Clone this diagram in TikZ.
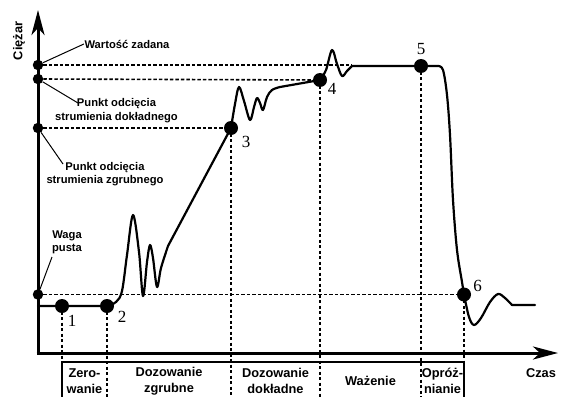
\documentclass[tikz,border=0pt]{standalone}
\usepackage{fontspec}
\setmainfont{Liberation Serif}
\setsansfont{Liberation Sans}
\usetikzlibrary{arrows.meta,calc}

\begin{document}
\begin{tikzpicture}[x=1pt, y=-1pt,
    axis/.style={line width=3pt, -{Stealth[length=25pt,width=13pt,inset=7pt]}},
    curve/.style={line width=2.2pt, line join=round, line cap=round},
    guide/.style={line width=1.6pt, dash pattern=on 3.3pt off 2.2pt},
    leader/.style={line width=1pt},
    boxline/.style={line width=1.1pt},
    adot/.style={circle, fill=black, inner sep=0pt, minimum size=10.5pt},
    pdot/.style={circle, fill=black, inner sep=0pt, minimum size=14pt},
    num/.style={font=\fontsize{17}{17}\selectfont, inner sep=0pt},
    lbl/.style={font=\sffamily\bfseries\fontsize{11.2}{13.5}\selectfont, align=center, inner sep=0.5pt},
    phase/.style={font=\sffamily\bfseries\fontsize{12.8}{16}\selectfont, align=center, inner sep=0pt}]
                \useasboundingbox (0,0) rectangle (561,396);

                % points on the curve
                \coordinate (O) at (38,353);
                \coordinate (bot) at (0,400);
                \coordinate (p1) at (62,306);
                \coordinate (p2) at (107,306);
                \coordinate (p3) at (231,128);
                \coordinate (p4) at (320,80);
                \coordinate (p5) at (421,66);
                \coordinate (p6) at (464,294.5);
                \coordinate (f) at (352,66);

                % points on the weight axis
                \node[adot] (a1) at (38,65) {};
                \node[adot] (a2) at (38,79) {};
                \node[adot] (a3) at (38,128) {};
                \node[adot] (a4) at (38,294.5) {};

                % guides
                \draw[guide] (a1) -- (a1 -| f);
                \draw[guide] (a2) -- (p4);
                \draw[guide] (a3) -- (p3);
                \draw[guide] (a4) -- (p6);
                \foreach \p in {p1,p2,p3,p4,p5,p6} {
                    \draw[guide] (\p) -- (\p |- bot);
                }

                % axes
                \draw[axis] (O) -- (38,10);
                \draw[axis] (36.5,353) -- (558,353);
                \node[phase, rotate=90] (ylab) at (19,41) {Ciężar};
                \node[phase] (xlab) at (541,373) {Czas};

                % weight curve
                \draw[curve] (38,306) -- (p1) -- (p2)
                    plot[smooth, tension=0.55] coordinates {(p2) (116,302) (122,291) (127,255) (133,215) (139,252) (143,296) (147,262) (150,245) (153,258) (157,287) (161,268) (168,246)}
                    -- (p3)
                    plot[smooth, tension=0.55] coordinates {(p3) (235,104) (239,87) (244,101) (250,120) (254,107) (257,98) (260,103) (263,110) (267,97) (272,90) (280,87)}
                    -- (p4)
                    plot[smooth, tension=0.55] coordinates {(p4) (326,70) (332,50) (337,64) (342,76) (347,71) (f)}
                    -- (p5) -- (438,66)
                    plot[smooth, tension=0.55] coordinates {(438,66) (443,70) (447,95) (450,135) (453,200) (457,250) (462,282) (p6) (469,317) (474,325) (481,318) (490,302) (498,294) (505,298) (512,305)}
                    -- (535,305);

                % numbered points
                \foreach \p in {p1,p2,p3,p4,p5,p6} {
                    \node[pdot] (d\p) at (\p) {};
                }
                \node[num] (n1) at (72,321) {1};
                \node[num] (n2) at (122,317) {2};
                \node[num] (n3) at (246,142) {3};
                \node[num] (n4) at (332,89) {4};
                \node[num] (n5) at (421,49) {5};
                \node[num] (n6) at (477.5,286) {6};

                % labels of the weight axis
                \node[lbl] (lws) at (127,44) {Wartość zadana};
                \draw[leader] (a1) -- (lws.west);
                \node[lbl] (ldok) at (116.5,110.5) {Punkt odcięcia\\strumienia dokładnego};
                \coordinate (edok) at (78,103);
                \draw[leader] (a2) -- (edok);
                \node[lbl] (lzgr) at (105,174) {Punkt odcięcia\\strumienia zgrubnego};
                \coordinate (ezgr) at (63,164);
                \draw[leader] (a3) -- (ezgr);
                \node[lbl] (lwp) at (67,242.5) {Waga\\pusta};
                \coordinate (ewp) at (52,257);
                \draw[leader] (a4) -- (ewp);

                % phases
                \draw[boxline] (p1 |- bot) |- (p6 |- 0,362) -- (p6 |- bot);
                \node[phase] (ph1) at (84.5,381) {Zero-\\wanie};
                \node[phase] (ph2) at (169,381) {Dozowanie\\zgrubne};
                \node[phase] (ph3) at (275.5,381) {Dozowanie\\dokładne};
                \node[phase] (ph4) at (370.5,381) {Ważenie};
                \node[phase] (ph5) at (442.5,381) {Opróż-\\nianie};
            \end{tikzpicture}
\end{document}
